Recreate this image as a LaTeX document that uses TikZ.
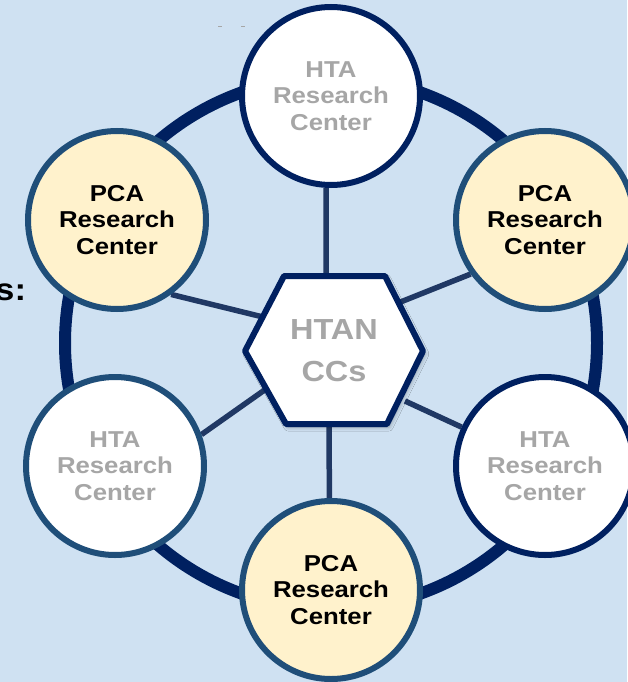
\documentclass[tikz,border=0pt]{standalone}
\usepackage{fontspec}
\setmainfont{Liberation Sans}[FakeStretch=1.12]
\usetikzlibrary{backgrounds,shadows.blur,calc}
\definecolor{bgblue}{HTML}{CFE1F2}
\definecolor{navy}{HTML}{002060}
\definecolor{steel}{HTML}{1F4E79}
\definecolor{spokecol}{HTML}{203864}
\definecolor{cream}{HTML}{FFF2CC}
\definecolor{lgray}{HTML}{A6A6A6}
\begin{document}
\begin{tikzpicture}[x=1pt,y=-1pt,
  ctr/.style={circle, minimum size=178pt, inner sep=0pt, line width=6pt, align=center,
    font=\bfseries\fontsize{23}{26.5}\selectfont},
  pca/.style={ctr, draw=steel, fill=cream, text=black},
  hta/.style={ctr, fill=white, text=lgray},
  ringline/.style={draw=navy, line width=12pt},
  spk/.style={draw=spokecol, line width=5.5pt},
  hexshape/.style={draw=navy, fill=white, line width=6pt, line join=round,
    blur shadow={shadow xshift=2pt, shadow yshift=-3pt, shadow blur radius=4pt, shadow opacity=35}},
  hubtxt/.style={inner sep=0pt, align=center, text=lgray,
    font=\bfseries\fontsize{29}{42}\selectfont},
  lbltxt/.style={inner sep=0pt, anchor=base west, text=black,
    font=\bfseries\fontsize{31}{36}\selectfont},
  speck/.style={draw=lgray, line width=1pt}
]
\useasboundingbox (0,0) rectangle (627,682);

% outer nodes
\node[hta, draw=navy] (top) at (331,96) {HTA\\Research\\Center};
\node[pca] (tl) at (117,220) {PCA\\Research\\Center};
\node[pca] (tr) at (545,220) {PCA\\Research\\Center};
\node[hta, draw=steel] (bl) at (115,466) {HTA\\Research\\Center};
\node[hta, draw=navy] (br) at (545,466) {HTA\\Research\\Center};
\node[pca] (bot) at (331,590) {PCA\\Research\\Center};

% hexagon hub
\coordinate (hc) at (334,351);
\draw[hexshape] (245,351) -- (284,276) -- (385,276) -- (423,351) -- (387,424) -- (286,424) -- cycle;
\node[hubtxt] (hub) at (hc) {HTAN\\CCs};

% spoke end points on the hexagon edges
\coordinate (sT) at (326,278);
\coordinate (sTR) at (398,303);
\coordinate (sBR) at (405,401);
\coordinate (sB) at (329,422);
\coordinate (sBL) at (266,389);
\coordinate (sTL) at (263,317);

% partial left label and specks
\node[lbltxt] (lbl) at (-5,300) {s:};
\draw[speck] (218,27) -- (222,27);
\draw[speck] (241,27) -- (245,27);

\begin{pgfonlayer}{background}
  \fill[bgblue] (0,0) rectangle (627,682);
  \coordinate (rc) at (331,343);
  \draw[ringline] (rc) circle[radius=266pt];
  \draw[spk] (top.-93) -- (sT);
  \draw[spk] (tr.216) -- (sTR);
  \draw[spk] (br.155) -- (sBR);
  \draw[spk] (bot.91) -- (sB);
  \draw[spk] (bl.20) -- (sBL);
  \draw[spk] (tl.-54) -- (sTL);
\end{pgfonlayer}
\end{tikzpicture}
\end{document}
